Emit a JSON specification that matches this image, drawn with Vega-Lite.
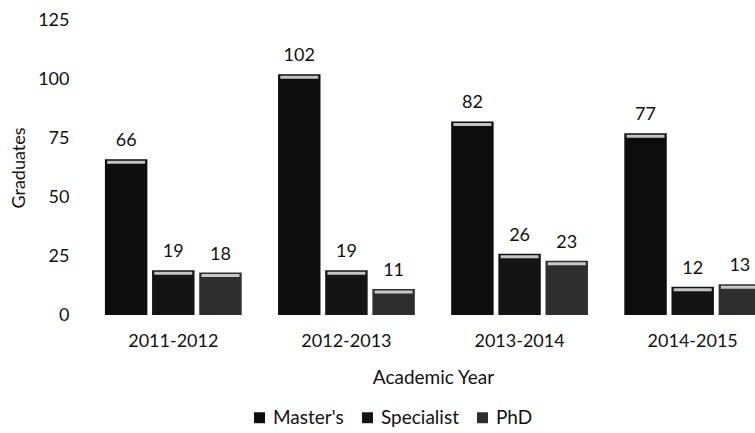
{
  "$schema": "https://vega.github.io/schema/vega-lite/v6.json",
  "autosize": {"type": "none"},
  "padding": {"left": 85, "top": 20, "right": 0, "bottom": 118},
  "width": 670,
  "height": 295,
  "background": "white",
  "config": {
    "view": {"stroke": null},
    "font": "Lato",
    "axis": {"labelFont": "Lato", "titleFont": "Lato", "labelColor": "#111", "titleColor": "#111", "titleFontWeight": "normal"},
    "legend": {"labelFont": "Lato", "labelColor": "#111"}
  },
  "data": {
    "values": [
      {"year": "2011-2012", "degree": "Master's", "graduates": 66},
      {"year": "2011-2012", "degree": "Specialist", "graduates": 19},
      {"year": "2011-2012", "degree": "PhD", "graduates": 18},
      {"year": "2012-2013", "degree": "Master's", "graduates": 102},
      {"year": "2012-2013", "degree": "Specialist", "graduates": 19},
      {"year": "2012-2013", "degree": "PhD", "graduates": 11},
      {"year": "2013-2014", "degree": "Master's", "graduates": 82},
      {"year": "2013-2014", "degree": "Specialist", "graduates": 26},
      {"year": "2013-2014", "degree": "PhD", "graduates": 23},
      {"year": "2014-2015", "degree": "Master's", "graduates": 77},
      {"year": "2014-2015", "degree": "Specialist", "graduates": 12},
      {"year": "2014-2015", "degree": "PhD", "graduates": 13}
    ]
  },
  "encoding": {
    "x": {
      "field": "year",
      "type": "nominal",
      "scale": {"range": [0, 696], "paddingInner": 0.21, "paddingOuter": 0.115},
      "axis": {
        "title": "Academic Year",
        "labelAngle": 0,
        "labelFontSize": 18,
        "titleFontSize": 19,
        "domain": false,
        "ticks": false,
        "labelPadding": 17,
        "titlePadding": 18
      }
    },
    "xOffset": {
      "field": "degree",
      "type": "nominal",
      "sort": ["Master's", "Specialist", "PhD"],
      "scale": {"paddingInner": 0.1, "paddingOuter": 0}
    },
    "y": {
      "field": "graduates",
      "type": "quantitative",
      "scale": {"domain": [0, 125], "nice": false},
      "axis": {
        "title": "Graduates",
        "values": [0, 25, 50, 75, 100, 125],
        "labelFontSize": 18,
        "titleFontSize": 18,
        "domain": false,
        "ticks": false,
        "grid": false,
        "labelPadding": 16,
        "titlePadding": 9
      }
    }
  },
  "layer": [
    {
      "mark": {"type": "bar"},
      "encoding": {
        "color": {
          "field": "degree",
          "type": "nominal",
          "sort": ["Master's", "Specialist", "PhD"],
          "scale": {"domain": ["Master's", "Specialist", "PhD"], "range": ["#0d0d0d", "#141414", "#2e2e2e"]},
          "legend": {
            "title": null,
            "orient": "none",
            "direction": "horizontal",
            "legendX": 165,
            "legendY": 388,
            "labelFontSize": 19,
            "symbolType": "square",
            "symbolSize": 120,
            "symbolStrokeWidth": 0,
            "labelOffset": 4,
            "columnPadding": 14
          }
        }
      }
    },
    {
      "mark": {"type": "tick", "color": "#e4e4e4", "thickness": 3, "size": 38, "yOffset": 3, "opacity": 0.85},
      "encoding": {}
    },
    {
      "mark": {"type": "text", "baseline": "alphabetic", "dy": -13, "fontSize": 18, "color": "#111"},
      "encoding": {"text": {"field": "graduates", "type": "quantitative"}}
    }
  ]
}
